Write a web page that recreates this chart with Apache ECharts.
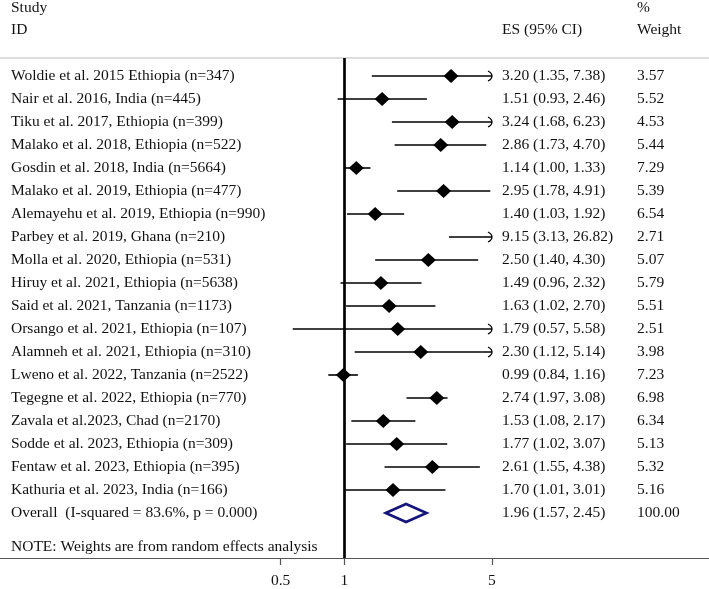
<!DOCTYPE html>
<html>
<head>
<meta charset="utf-8">
<script src="https://cdn.jsdelivr.net/npm/echarts@6/dist/echarts.min.js"></script>
<style>
  html, body { margin: 0; padding: 0; background: #fff; }
  #forest { width: 709px; height: 589px; }
</style>
</head>
<body>
<div id="forest"></div>
<script>
var studies = [
    'Woldie et al. 2015 Ethiopia (n=347)',
    'Nair et al. 2016, India (n=445)',
    'Tiku et al. 2017, Ethiopia (n=399)',
    'Malako et al. 2018, Ethiopia (n=522)',
    'Gosdin et al. 2018, India (n=5664)',
    'Malako et al. 2019, Ethiopia (n=477)',
    'Alemayehu et al. 2019, Ethiopia (n=990)',
    'Parbey et al. 2019, Ghana (n=210)',
    'Molla et al. 2020, Ethiopia (n=531)',
    'Hiruy et al. 2021, Ethiopia (n=5638)',
    'Said et al. 2021, Tanzania (n=1173)',
    'Orsango et al. 2021, Ethiopia (n=107)',
    'Alamneh et al. 2021, Ethiopia (n=310)',
    'Lweno et al. 2022, Tanzania (n=2522)',
    'Tegegne et al. 2022, Ethiopia (n=770)',
    'Zavala et al.2023, Chad (n=2170)',
    'Sodde et al. 2023, Ethiopia (n=309)',
    'Fentaw et al. 2023, Ethiopia (n=395)',
    'Kathuria et al. 2023, India (n=166)'
];
var es = [3.20, 1.51, 3.24, 2.86, 1.14, 2.95, 1.40, 9.15, 2.50, 1.49, 1.63, 1.79, 2.30, 0.99, 2.74, 1.53, 1.77, 2.61, 1.70];
var lower = [1.35, 0.93, 1.68, 1.73, 1.00, 1.78, 1.03, 3.13, 1.40, 0.96, 1.02, 0.57, 1.12, 0.84, 1.97, 1.08, 1.02, 1.55, 1.01];
var upper = [7.38, 2.46, 6.23, 4.70, 1.33, 4.91, 1.92, 26.82, 4.30, 2.32, 2.70, 5.58, 5.14, 1.16, 3.08, 2.17, 3.07, 4.38, 3.01];
var weights = [3.57, 5.52, 4.53, 5.44, 7.29, 5.39, 6.54, 2.71, 5.07, 5.79, 5.51, 2.51, 3.98, 7.23, 6.98, 6.34, 5.13, 5.32, 5.16];

var overallLabel = 'Overall  (I-squared = 83.6%, p = 0.000)';
var overall = { es: 1.96, lower: 1.57, upper: 2.45, weight: 100.00 };
var xTicks = [0.5, 1, 5];
var noteText = 'NOTE: Weights are from random effects analysis';

var FONT = '"Liberation Serif", "Times New Roman", serif';
var FS = 15.5;
var CLIP = 5; // right end of the plotted region

var rows = [];
for (var i = 0; i < studies.length; i++) {
    rows.push([i, es[i], lower[i], upper[i], weights[i], 0]);
}
rows.push([studies.length, overall.es, overall.lower, overall.upper, overall.weight, 1]);

function fmt(v) { return v.toFixed(2); }

function renderRow(params, api) {
    var idx = params.dataIndex;
    var row = api.value(0);
    var e = api.value(1), lo = api.value(2), hi = api.value(3), w = api.value(4);
    var isOverall = api.value(5) === 1;
    var y = api.coord([1, row])[1];
    var xlo = api.coord([lo, row])[0];
    var xhi = api.coord([Math.min(hi, CLIP), row])[0];
    var xes = api.coord([e, row])[0];
    var children = [];
    var txt = function (s, x) {
        return {
            type: 'text',
            style: { text: s, x: x, y: y, verticalAlign: 'middle', font: FS + 'px ' + FONT, fill: '#111' }
        };
    };

    children.push(txt(isOverall ? overallLabel : studies[idx], 11));
    children.push(txt(fmt(e) + ' (' + fmt(lo) + ', ' + fmt(hi) + ')', 502));
    children.push(txt(fmt(w), 637));

    if (isOverall) {
        children.push({
            type: 'polygon',
            shape: { points: [[xlo, y], [xes, y - 9], [xhi, y], [xes, y + 9]] },
            style: { fill: '#fff', stroke: '#14147a', lineWidth: 2.6 }
        });
    } else {
        children.push({
            type: 'line',
            shape: { x1: xlo, y1: y, x2: xhi, y2: y },
            style: { stroke: '#000', lineWidth: 1.6 }
        });
        if (hi > CLIP) {
            // open arrow head where the CI runs off the scale
            children.push({
                type: 'bezierCurve',
                shape: { x1: xhi - 4, y1: y - 5, cpx1: xhi, cpy1: y - 3, x2: xhi, y2: y },
                style: { stroke: '#000', lineWidth: 1.3, fill: null }
            });
            children.push({
                type: 'bezierCurve',
                shape: { x1: xhi - 4, y1: y + 5, cpx1: xhi, cpy1: y + 3, x2: xhi, y2: y },
                style: { stroke: '#000', lineWidth: 1.3, fill: null }
            });
        }
        if (e <= CLIP) {
            children.push({
                type: 'polygon',
                shape: { points: [[xes - 7.5, y], [xes, y - 7], [xes + 7.5, y], [xes, y + 7]] },
                style: { fill: '#000' }
            });
        }
    }
    return { type: 'group', children: children };
}

var chart = echarts.init(document.getElementById('forest'), null, { renderer: 'canvas' });

chart.setOption({
    animation: false,
    backgroundColor: '#fff',
    // plot region: x=1 sits at 344px, 5 at 492px
    grid: { left: 0, right: 0, top: 58, bottom: 31 },
    xAxis: {
        type: 'log',
        logBase: 10,
        min: 0.02348,
        max: 53.2,
        axisLine: { show: true, onZero: false, lineStyle: { color: '#555', width: 1.2 } },
        axisTick: { show: true, inside: false, length: 7, customValues: xTicks, lineStyle: { color: '#555', width: 1.2 } },
        axisLabel: {
            show: true,
            customValues: xTicks,
            margin: 15,
            fontFamily: FONT,
            fontSize: FS,
            color: '#111',
            formatter: function (v) { return String(v); }
        },
        splitLine: { show: false },
        minorTick: { show: false }
    },
    yAxis: {
        type: 'value',
        inverse: true,
        min: -0.7826,
        max: 20.957,
        show: false
    },
    graphic: [
        { type: 'text', left: 11, top: 0, style: { text: 'Study', font: FS + 'px ' + FONT, fill: '#111' } },
        { type: 'text', left: 11, top: 22, style: { text: 'ID', font: FS + 'px ' + FONT, fill: '#111' } },
        { type: 'text', left: 502, top: 22, style: { text: 'ES (95% CI)', font: FS + 'px ' + FONT, fill: '#111' } },
        { type: 'text', left: 637, top: 0, style: { text: '%', font: FS + 'px ' + FONT, fill: '#111' } },
        { type: 'text', left: 637, top: 22, style: { text: 'Weight', font: FS + 'px ' + FONT, fill: '#111' } },
        { type: 'line', shape: { x1: 0, y1: 58, x2: 709, y2: 58 }, style: { stroke: '#bbb', lineWidth: 1.2 } },
        { type: 'text', left: 11, top: 539, style: { text: noteText, font: FS + 'px ' + FONT, fill: '#111' } }
    ],
    series: [{
        type: 'custom',
        coordinateSystem: 'cartesian2d',
        renderItem: renderRow,
        data: rows,
        clip: false,
        markLine: {
            silent: true,
            symbol: 'none',
            label: { show: false },
            lineStyle: { color: '#000', width: 2.7, type: 'solid' },
            data: [{ xAxis: 1 }]
        }
    }]
});
</script>
</body>
</html>
